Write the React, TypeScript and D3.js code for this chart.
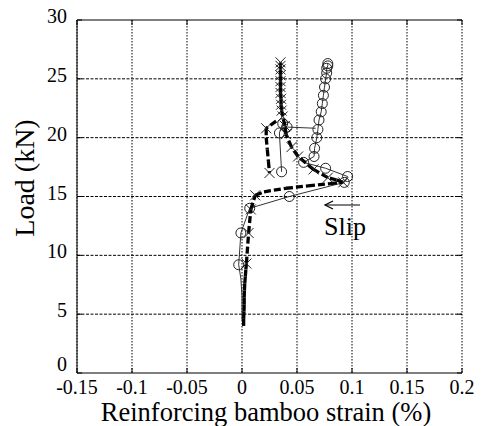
import React from "react";
import * as d3 from "d3";

// ---- data ----
const xTicks = [-0.15, -0.1, -0.05, 0, 0.05, 0.1, 0.15, 0.2];
const yTicks = [0, 5, 10, 15, 20, 25, 30];

// gauge B (crosses, thick dashed line)
const strainB = [0.0015, 0.0015, 0.0018, 0.002, 0.002, 0.0022, 0.0025, 0.003, 0.0035, 0.004, 0.006, 0.008, 0.012, 0.02, 0.04, 0.06, 0.08, 0.092, 0.086, 0.078, 0.065, 0.051, 0.045, 0.04, 0.039, 0.037, 0.036, 0.0355, 0.0355, 0.035, 0.035, 0.035, 0.035, 0.035, 0.035, 0.035];
const loadB = [4.0, 4.6, 5.2, 5.8, 6.4, 7.0, 7.6, 8.2, 8.8, 9.3, 11.9, 13.9, 15.1, 15.4, 15.7, 15.9, 16.1, 16.2, 16.4, 16.6, 17.3, 18.4, 19.2, 20.3, 21.0, 21.8, 22.3, 22.8, 23.3, 23.8, 24.3, 24.8, 25.3, 25.8, 26.1, 26.4];
const markB = [0, 0, 0, 0, 0, 0, 0, 0, 0, 1, 1, 1, 1, 0, 0, 0, 0, 1, 0, 1, 1, 1, 1, 1, 1, 1, 1, 1, 1, 1, 1, 1, 1, 1, 1, 1];
const strainB2 = [0.031, 0.022, 0.022, 0.023, 0.024, 0.025];
const loadB2 = [21.4, 20.8, 20.0, 19.0, 18.0, 17.0];
const markB2 = [0, 1, 0, 0, 0, 1];

// gauge A (circles, thin solid line)
const strainA = [0.0, 0.0, -0.001, -0.003, -0.001, 0.007, 0.043, 0.093, 0.096, 0.076, 0.056, 0.0655, 0.066, 0.068, 0.069, 0.07, 0.072, 0.073, 0.074, 0.075, 0.076, 0.077, 0.077, 0.078, 0.078];
const loadA = [4.5, 6.5, 8.0, 9.2, 11.9, 14.0, 15.0, 16.2, 16.7, 17.4, 17.9, 18.4, 19.1, 20.0, 20.7, 21.5, 22.2, 22.9, 23.6, 24.3, 25.0, 25.5, 25.9, 26.1, 26.3];
const markA = [0, 0, 0, 1, 1, 1, 1, 1, 1, 1, 1, 1, 1, 1, 1, 1, 1, 1, 1, 1, 1, 1, 1, 1, 1];
const strainA2 = [0.067, 0.041, 0.037, 0.034, 0.036];
const loadA2 = [20.8, 20.9, 21.2, 20.4, 17.1];
const markA2 = [0, 1, 1, 1, 1];

const W = 482, H = 426;
const L = 77, R = 462, T = 20, B = 373;
const FONT = "Liberation Serif";

export default function App() {
  const x = d3.scaleLinear().domain([-0.15, 0.2]).range([L, R]);
  const y = d3.scaleLinear().domain([0, 30]).range([B, T]);

  const thinLine = d3.line<number>().x((i) => x(strainA[i])).y((i) => y(loadA[i]));
  const thinLine2 = d3.line<number>().x((i) => x(strainA2[i])).y((i) => y(loadA2[i]));

  const segs = (sx: number[], sy: number[], key: string) =>
    sx.slice(0, -1).map((_, i) => (
      <line key={key + i} x1={x(sx[i])} y1={y(sy[i])} x2={x(sx[i + 1])} y2={y(sy[i + 1])}
        stroke="#000" strokeWidth={3.3} strokeDasharray="7,3" />
    ));

  const cross = (cx: number, cy: number, k: string) => (
    <path key={k} d={`M${cx - 5},${cy - 5}L${cx + 5},${cy + 5}M${cx - 5},${cy + 5}L${cx + 5},${cy - 5}`}
      stroke="#222" strokeWidth={1} fill="none" />
  );

  const ts = { fontFamily: FONT };

  return (
    <svg width={W} height={H} style={{ position: "absolute", left: 0, top: 0, background: "#fff" }}>
      <rect x={0} y={0} width={W} height={H} fill="#fff" />
      {/* grid */}
      {xTicks.map((t) => (
        <line key={"gx" + t} x1={x(t)} x2={x(t)} y1={T} y2={B} stroke="#000" strokeWidth={1} strokeDasharray="1.5,1.5" />
      ))}
      {yTicks.slice(1, -1).map((t) => (
        <line key={"gy" + t} x1={L} x2={R} y1={y(t)} y2={y(t)} stroke="#000" strokeWidth={1} strokeDasharray="3,1.5" />
      ))}
      {/* frame */}
      <line x1={L} x2={R} y1={T} y2={T} stroke="#000" strokeWidth={1.2} />
      <line x1={L} x2={R} y1={B} y2={B} stroke="#000" strokeWidth={1.2} />
      <line x1={L} x2={L} y1={T} y2={B} stroke="#000" strokeWidth={1} />
      {/* ticks */}
      {xTicks.map((t) => (
        <g key={"tx" + t}>
          <line x1={x(t)} x2={x(t)} y1={B} y2={B - 5} stroke="#000" strokeWidth={1} />
          <line x1={x(t)} x2={x(t)} y1={T} y2={T + 5} stroke="#000" strokeWidth={1} />
          <text x={x(t)} y={394} textAnchor="middle" style={ts} fontSize={20} fill="#000">{String(t)}</text>
        </g>
      ))}
      {yTicks.map((t) => (
        <g key={"ty" + t}>
          <line x1={L} x2={L + 5} y1={y(t)} y2={y(t)} stroke="#000" strokeWidth={1} />
          <line x1={R} x2={R - 5} y1={y(t)} y2={y(t)} stroke="#000" strokeWidth={1} />
          <text x={67} y={y(t) + (t === 0 ? -2 : 3)} textAnchor="end" style={ts} fontSize={20} fill="#000">{String(t)}</text>
        </g>
      ))}
      {/* axis titles */}
      <text x={266} y={421} textAnchor="middle" style={ts} fontSize={26.5} fill="#000">Reinforcing bamboo strain (%)</text>
      <text transform={`translate(34,178) rotate(-90)`} textAnchor="middle" style={ts} fontSize={28} fill="#000">Load (kN)</text>

      {/* series A: thin line with circles */}
      <path d={thinLine(d3.range(strainA.length)) || ""} fill="none" stroke="#333" strokeWidth={1} />
      <path d={thinLine2(d3.range(strainA2.length)) || ""} fill="none" stroke="#333" strokeWidth={1} />
      {strainA.map((s, i) => markA[i] ? <circle key={"ca" + i} cx={x(s)} cy={y(loadA[i])} r={5} fill="none" stroke="#222" strokeWidth={1} /> : null)}
      {strainA2.map((s, i) => markA2[i] ? <circle key={"cb" + i} cx={x(s)} cy={y(loadA2[i])} r={5} fill="none" stroke="#222" strokeWidth={1} /> : null)}

      {/* series B: thick dashed with crosses */}
      {segs(strainB, loadB, "sb")}
      {segs(strainB2, loadB2, "sc")}
      {strainB.map((s, i) => markB[i] ? cross(x(s), y(loadB[i]), "xb" + i) : null)}
      {strainB2.map((s, i) => markB2[i] ? cross(x(s), y(loadB2[i]), "xc" + i) : null)}

      {/* Slip annotation */}
      <line x1={360} x2={325} y1={205} y2={205} stroke="#000" strokeWidth={1.2} />
      <path d="M333,201L325,205L333,209" fill="none" stroke="#000" strokeWidth={1.2} />
      <text x={324} y={235} style={ts} fontSize={26} fill="#000">Slip</text>
    </svg>
  );
}
